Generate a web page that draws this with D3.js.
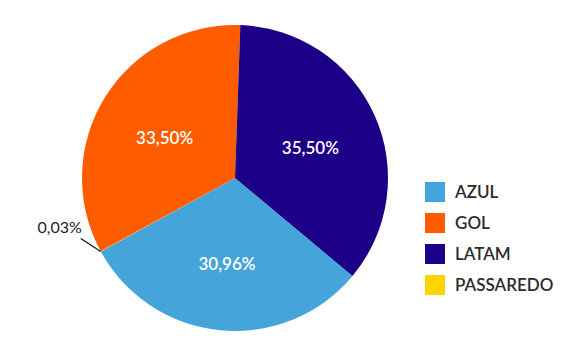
<!DOCTYPE html>
<html>
<head>
<meta charset="utf-8">
<script src="https://cdn.jsdelivr.net/npm/d3@7"></script>
<style>
  body { margin: 0; background: #fff; }
  svg { display: block; font-family: Lato, "Open Sans", sans-serif; }
</style>
</head>
<body>
<div id="chart"></div>
<script>
var companies = ["AZUL", "GOL", "LATAM", "PASSAREDO"];
var shares = [30.96, 33.50, 35.50, 0.03];
var colors = ["#45a4d9", "#ff5c00", "#1c0087", "#ffd400"];
// clockwise drawing order starting near 12 o'clock
var sliceOrder = ["LATAM", "AZUL", "PASSAREDO", "GOL"];

var width = 578, height = 351;
var cx = 235, cy = 178, radius = 153;

var data = companies.map(function (c, i) { return { company: c, share: shares[i] }; });

var svg = d3.select("#chart").append("svg").attr("width", width).attr("height", height);
var g = svg.append("g").attr("transform", "translate(" + cx + "," + cy + ")");

var color = d3.scaleOrdinal().domain(companies).range(colors);

var start = 2 * Math.PI / 180;
var pie = d3.pie()
    .sort(function (a, b) { return sliceOrder.indexOf(a.company) - sliceOrder.indexOf(b.company); })
    .startAngle(start)
    .endAngle(start + 2 * Math.PI)
    .value(function (d) { return d.share; });

var path = d3.arc().outerRadius(radius).innerRadius(0);
var label = d3.arc().outerRadius(radius * 0.54).innerRadius(radius * 0.54);
var edge = d3.arc().outerRadius(radius).innerRadius(radius);

var fmt = function (v) { return v.toFixed(2).replace(".", ",") + "%"; };

var arcs = pie(data);

g.selectAll(".arc")
  .data(arcs)
  .enter().append("path")
    .attr("class", "arc")
    .attr("d", path)
    .attr("fill", function (d) { return color(d.data.company); });

g.selectAll(".pie-label")
  .data(arcs.filter(function (d) { return d.data.share > 5; }))
  .enter().append("text")
    .attr("class", "pie-label")
    .attr("transform", function (d) { return "translate(" + label.centroid(d) + ")"; })
    .attr("dy", "0.55em")
    .attr("text-anchor", "middle")
    .attr("fill", "#fff")
    .attr("font-size", 17)
    .attr("font-weight", 600)
    .text(function (d) { return fmt(d.data.share); });

// small slice: outside label with leader line
var small = arcs.filter(function (d) { return d.data.share <= 5; });
small.forEach(function (d) {
    var p = edge.centroid(d);
    var q = [p[0] - 20, p[1] - 13];
    g.append("line")
        .attr("x1", p[0]).attr("y1", p[1])
        .attr("x2", q[0]).attr("y2", q[1])
        .attr("stroke", "#111").attr("stroke-width", 1.2);
    g.append("text")
        .attr("x", q[0] + 1).attr("y", q[1] - 5)
        .attr("text-anchor", "end")
        .attr("fill", "#222")
        .attr("font-size", 16)
        .text(fmt(d.data.share));
});

var legend = svg.append("g").attr("transform", "translate(425,182)");
var item = legend.selectAll(".legend-item")
  .data(companies)
  .enter().append("g")
    .attr("class", "legend-item")
    .attr("transform", function (d, i) { return "translate(0," + (i * 31) + ")"; });

item.append("rect")
    .attr("width", 20).attr("height", 20)
    .attr("fill", function (d) { return color(d); });

item.append("text")
    .attr("x", 30).attr("y", 10)
    .attr("dy", "0.36em")
    .attr("fill", "#2b2b2b")
    .attr("font-size", 17)
    .attr("font-weight", 600)
    .text(function (d) { return d; });
</script>
</body>
</html>
